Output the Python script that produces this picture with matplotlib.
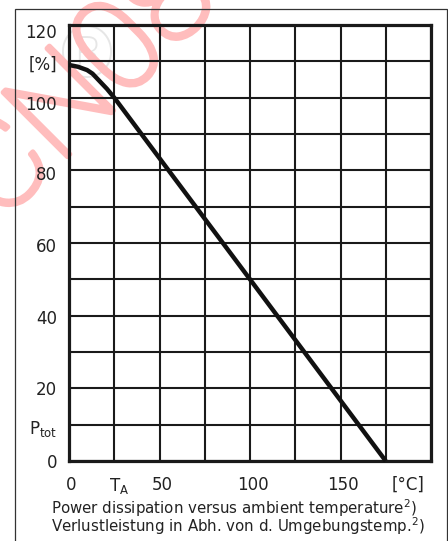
import matplotlib
matplotlib.use('Agg')
import matplotlib.pyplot as plt
import matplotlib.patheffects as pe
from matplotlib.patches import Rectangle
from matplotlib.transforms import ScaledTranslation

# ---- data ----
temp_c = [0, 5, 10, 13, 17, 21, 25, 175]
power_pct = [109, 108.5, 107.6, 106.6, 104.5, 102.4, 100, 0]

x_grid = [0, 25, 50, 75, 100, 125, 150, 175, 200]
x_labels = ['0', r'T$_{\mathrm{A}}$', '50', '', '100', '', '150', '', '']
y_grid = [0, 10, 20, 30, 40, 50, 60, 70, 80, 90, 100, 110, 120]
y_labels = ['0', r'P$_{\mathrm{tot}}$', '20', '', '40', '', '60', '', '80', '', '100', '[%]', '120']
x_unit = '[°C]'
caption_lines = [r'Power dissipation versus ambient temperature$^{2}$)',
                 r'Verlustleistung in Abh. von d. Umgebungstemp.$^{2}$)']
watermark = 'CN08'

W, H = 448, 541
plt.rcParams['font.family'] = ['DejaVu Sans']
plt.rcParams['mathtext.default'] = 'regular'
fig = plt.figure(figsize=(W / 100, H / 100), dpi=100)

def fx(px):
    return px / W

def fy(py):
    return 1 - py / H

L, R, T, B = 69, 431, 25, 461
ax = fig.add_axes([fx(L), fy(B), fx(R) - fx(L), fy(T) - fy(B)])
ax.set_xlim(0, 200)
ax.set_ylim(0, 120)

ink = '#1a1a1a'
txt = '#222222'
ax.set_xticks(x_grid)
ax.set_xticklabels(x_labels)
ax.set_yticks(y_grid)
ax.set_yticklabels(y_labels)
ax.tick_params(length=0, labelsize=12, colors=txt)
ax.tick_params(axis='x', pad=11)
ax.tick_params(axis='y', pad=8.5)
ax.grid(True, color=ink, linewidth=1.5)
for s in ax.spines.values():
    s.set_linewidth(2.3)
    s.set_color(ink)

# small per-label nudges (pixels) to follow the reference placement
y_nudge = {'120': -6, '100': -5, '80': -3, '60': -2, '40': -1, '[%]': -1, r'P$_{\mathrm{tot}}$': -2}
for lab in ax.get_yticklabels():
    dy = y_nudge.get(lab.get_text(), 0)
    if dy:
        lab.set_transform(lab.get_transform() + ScaledTranslation(0, dy / 100, fig.dpi_scale_trans))
for lab in ax.get_xticklabels():
    dx = 5 if 'T' in lab.get_text() else 2.5
    lab.set_transform(lab.get_transform() + ScaledTranslation(dx / 100, 0, fig.dpi_scale_trans))

ax.plot(temp_c, power_pct, color='#111111', linewidth=3.2, solid_capstyle='butt',
        solid_joinstyle='round', zorder=3, clip_on=False)

ax.text(187.5, -0.055, x_unit, transform=ax.get_xaxis_transform(), ha='center', va='center',
        fontsize=12, color=txt)

# faint registered-mark watermark
ax.text(fx(87), fy(57), '®', transform=fig.transFigure, ha='center', va='center',
        fontsize=52, color='#e6e6e6', zorder=0.8, clip_on=False,
        family=['Roboto', 'DejaVu Sans'], fontweight=100)

# pink watermark, kept beneath the grid and labels
wm_col = '#ffbdbd'
ax.text(fx(0), fy(224), watermark, transform=fig.transFigure, rotation=45,
        rotation_mode='anchor', ha='left', va='baseline', fontsize=92, color=wm_col,
        family=['Roboto', 'DejaVu Sans'], fontweight=100, zorder=1, clip_on=False,
        path_effects=[pe.Stroke(linewidth=3.6, foreground=wm_col,
                                capstyle='round', joinstyle='round'), pe.Normal()])

for i, line in enumerate(caption_lines):
    fig.text(fx(51), fy(508 + 18 * i), line, ha='left', va='center', fontsize=10.8,
             color=txt)

# outer frame
fig.add_artist(Rectangle((fx(15), -0.1), fx(446.5) - fx(15), fy(9) + 0.1,
                         transform=fig.transFigure, fill=False, edgecolor='#333333',
                         linewidth=0.9))

fig.savefig('out.png', dpi=100)
